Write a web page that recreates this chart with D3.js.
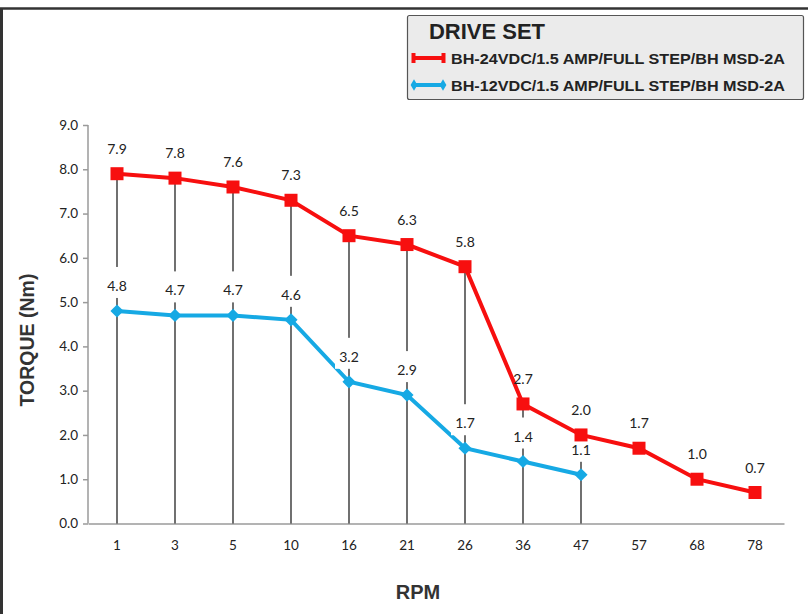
<!DOCTYPE html>
<html>
<head>
<meta charset="utf-8">
<script src="https://cdn.jsdelivr.net/npm/d3@7"></script>
<style>
  body { margin: 0; background: #fff; }
  svg { display: block; }
</style>
</head>
<body>
<svg></svg>
<script>
// data
let rpm = ["1", "3", "5", "10", "16", "21", "26", "36", "47", "57", "68", "78"];
let torque24 = [7.9, 7.8, 7.6, 7.3, 6.5, 6.3, 5.8, 2.7, 2.0, 1.7, 1.0, 0.7];
let torque12 = [4.8, 4.7, 4.7, 4.6, 3.2, 2.9, 1.7, 1.4, 1.1];
let yTicks = [0, 1, 2, 3, 4, 5, 6, 7, 8, 9];
let seriesNames = [
  "BH-24VDC/1.5 AMP/FULL STEP/BH MSD-2A",
  "BH-12VDC/1.5 AMP/FULL STEP/BH MSD-2A",
];

let width = 808;
let height = 614;
let red = "#f70f0f";
let blue = "#16a9e4";
let font = "Lato, 'Noto Sans', sans-serif";
let boldFont = "'Liberation Sans', Arial, sans-serif";

let svg = d3.select("svg").attr("width", width).attr("height", height);

// outer frame (top and left)
svg.append("line").attr("x1", 0).attr("y1", 8.5).attr("x2", width).attr("y2", 8.5)
  .attr("stroke", "#333").attr("stroke-width", 2.5);
svg.append("line").attr("x1", 1.5).attr("y1", 8).attr("x2", 1.5).attr("y2", height)
  .attr("stroke", "#333").attr("stroke-width", 3);

// scales
let x = d3.scaleBand().domain(rpm).range([88, 784]);
let y = d3.scaleLinear().domain([0, 9]).range([523.5, 125]);
let cx = (d) => x(d) + x.bandwidth() / 2;

let pts24 = rpm.map((d, i) => ({ k: d, v: torque24[i] }));
let pts12 = torque12.map((v, i) => ({ k: rpm[i], v: v }));

// axes
let axisY = d3.axisLeft(y).tickValues(yTicks).tickFormat(d3.format(".1f")).tickSize(5).tickPadding(5);
let gy = svg.append("g").attr("transform", "translate(88,0)").call(axisY);
gy.selectAll("path, line").attr("stroke", "#9a9a9a").attr("stroke-width", 1.5);
gy.select(".domain").attr("d", `M0,${y(9)}V${y(0)}`);
gy.selectAll("text").attr("font-family", font).attr("font-size", 13.5).attr("fill", "#222");

let axisX = d3.axisBottom(x).tickSize(0).tickPadding(17);
let gx = svg.append("g").attr("transform", `translate(0,${y(0)})`).call(axisX);
gx.select(".domain").attr("stroke", "#9a9a9a").attr("stroke-width", 1.5);
gx.selectAll("text").attr("font-family", font).attr("font-size", 13.5).attr("fill", "#222");

// drop lines from the upper point to the axis
svg.selectAll(".drop").data(pts12).enter().append("line")
  .attr("x1", (d) => cx(d.k)).attr("x2", (d) => cx(d.k))
  .attr("y1", (d, i) => y(torque24[i])).attr("y2", y(0))
  .attr("stroke", "#111").attr("stroke-width", 1.2);

let line = d3.line().x((d) => cx(d.k)).y((d) => y(d.v));

// 12 V series
svg.append("path").datum(pts12).attr("d", line)
  .attr("fill", "none").attr("stroke", blue).attr("stroke-width", 4);
svg.selectAll(".dia").data(pts12).enter().append("path")
  .attr("d", d3.symbol().type(d3.symbolDiamond2).size(110))
  .attr("transform", (d) => `translate(${cx(d.k)},${y(d.v)})`)
  .attr("fill", blue);

// white label boxes for the 12 V labels
svg.selectAll(".lbox").data(pts12).enter().append("rect")
  .attr("x", (d) => cx(d.k) - 14).attr("y", (d) => y(d.v) - 44)
  .attr("width", 28).attr("height", 31).attr("fill", "#fff");

// 24 V series
svg.append("path").datum(pts24).attr("d", line)
  .attr("fill", "none").attr("stroke", red).attr("stroke-width", 4);
svg.selectAll(".sq").data(pts24).enter().append("rect")
  .attr("x", (d) => cx(d.k) - 6.5).attr("y", (d) => y(d.v) - 6.5)
  .attr("width", 13).attr("height", 13).attr("fill", red);

// data labels
function labels(data) {
  svg.append("g").selectAll("text").data(data).enter().append("text")
    .attr("x", (d) => cx(d.k)).attr("y", (d) => y(d.v) - 20)
    .attr("text-anchor", "middle")
    .attr("font-family", font).attr("font-size", 14).attr("fill", "#222")
    .text((d) => d3.format(".1f")(d.v));
}
labels(pts12);
labels(pts24);

// axis titles
svg.append("text").attr("x", 418).attr("y", 599).attr("text-anchor", "middle")
  .attr("font-family", boldFont).attr("font-weight", "bold")
  .attr("font-size", 20).attr("fill", "#333").text("RPM");
svg.append("text").attr("transform", "translate(34,340) rotate(-90)").attr("text-anchor", "middle")
  .attr("font-family", boldFont).attr("font-weight", "bold")
  .attr("font-size", 19.5).attr("fill", "#333").text("TORQUE (Nm)");

// legend
let lg = svg.append("g");
lg.append("rect").attr("x", 407.5).attr("y", 15.5).attr("width", 396).attr("height", 84)
  .attr("rx", 2).attr("fill", "#ebebeb").attr("stroke", "#555").attr("stroke-width", 1.2);
lg.append("text").attr("x", 429).attr("y", 39)
  .attr("font-family", boldFont).attr("font-weight", "bold")
  .attr("font-size", 21.5).attr("fill", "#222")
  .attr("textLength", 116).attr("lengthAdjust", "spacingAndGlyphs").text("DRIVE SET");

let itemY = [58, 85];
let colors = [red, blue];
seriesNames.forEach(function (name, i) {
  let yy = itemY[i];
  lg.append("line").attr("x1", 413).attr("x2", 445).attr("y1", yy).attr("y2", yy)
    .attr("stroke", colors[i]).attr("stroke-width", 4);
  if (i === 0) {
    [413, 443].forEach(function (xx) {
      lg.append("rect").attr("x", xx - 1.5).attr("y", yy - 5).attr("width", 4).attr("height", 10)
        .attr("fill", red);
    });
  } else {
    [414, 443].forEach(function (xx) {
      lg.append("path").attr("d", d3.symbol().type(d3.symbolDiamond2).size(60))
        .attr("transform", `translate(${xx},${yy}) scale(0.7,1.2)`).attr("fill", blue);
    });
  }
  lg.append("text").attr("x", 451).attr("y", yy + 5.5)
    .attr("font-family", boldFont).attr("font-weight", "bold")
    .attr("font-size", 15.5).attr("fill", "#222")
    .attr("textLength", 334).attr("lengthAdjust", "spacingAndGlyphs").text(name);
});
</script>
</body>
</html>
